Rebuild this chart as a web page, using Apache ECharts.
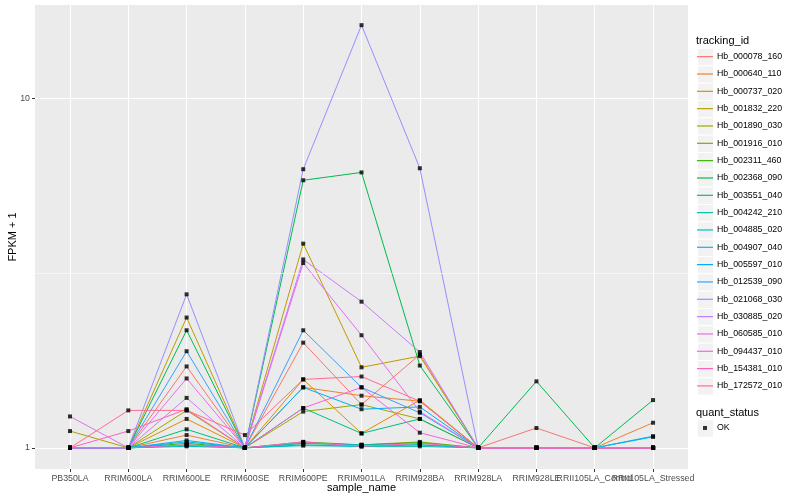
<!DOCTYPE html>
<html><head><meta charset="utf-8">
<script src="https://cdn.jsdelivr.net/npm/echarts@6/dist/echarts.min.js"></script>
<style>html,body{margin:0;padding:0;background:#fff}#c{width:800px;height:500px}</style>
</head><body><div id="c"></div>
<script>
const categories = ['PB350LA','RRIM600LA','RRIM600LE','RRIM600SE','RRIM600PE','RRIM901LA','RRIM928BA','RRIM928LA','RRIM928LE','RRII105LA_Control','RRII105LA_Stressed'];
const trackingIds = ['Hb_000078_160','Hb_000640_110','Hb_000737_020','Hb_001832_220','Hb_001890_030','Hb_001916_010','Hb_002311_460','Hb_002368_090','Hb_003551_040','Hb_004242_210','Hb_004885_020','Hb_004907_040','Hb_005597_010','Hb_012539_090','Hb_021068_030','Hb_030885_020','Hb_060585_010','Hb_094437_010','Hb_154381_010','Hb_172572_010'];
const seriesColors = ['#F8766D','#EA8331','#D89000','#C09B00','#A3A500','#7CAE00','#39B600','#00BB4E','#00BF7D','#00C1A3','#00BFC4','#00BAE0','#00B0F6','#35A2FF','#9590FF','#C77CFF','#E76BF3','#FA62DB','#FF62BC','#FF6C91'];
const yTickValues = [1, 10];
const yMinorGrid = [3.1623];

const hb_000078_160 = [1, 1, 1.71, 1, 2.0, 1.33, 1.85, 1, 1.14, 1, 1];
const hb_000640_110 = [1, 1, 1.088, 1, 1.49, 1.41, 1.36, 1, 1, 1, 1.18];
const hb_000737_020 = [1, 1, 1.21, 1, 1.57, 1.10, 1.37, 1, 1, 1, 1];
const hb_001832_220 = [1, 1, 2.36, 1, 3.84, 1.70, 1.83, 1, 1, 1, 1];
const hb_001890_030 = [1.117, 1, 1.28, 1, 1.27, 1.33, 1.21, 1, 1, 1, 1];
const hb_001916_010 = [1, 1, 1.02, 1, 1.03, 1.02, 1.04, 1, 1, 1, 1];
const hb_002311_460 = [1, 1, 1.03, 1, 1.04, 1.02, 1.035, 1, 1, 1, 1];
const hb_002368_090 = [1, 1, 2.17, 1, 5.83, 6.14, 1.72, 1, 1.55, 1, 1.37];
const hb_003551_040 = [1, 1, 1.13, 1, 1.30, 1.10, 1.21, 1, 1, 1, 1];
const hb_004242_210 = [1, 1, 1.015, 1, 1.02, 1.01, 1.01, 1, 1, 1, 1];
const hb_004885_020 = [1, 1, 1.01, 1, 1.015, 1.01, 1.02, 1, 1, 1, 1];
const hb_004907_040 = [1, 1, 1.04, 1, 1.03, 1.02, 1.02, 1, 1, 1, 1.08];
const hb_005597_010 = [1, 1, 1.05, 1, 1.49, 1.29, 1.31, 1, 1, 1, 1.075];
const hb_012539_090 = [1, 1, 1.89, 1, 2.17, 1.49, 1.26, 1, 1, 1, 1];
const hb_021068_030 = [1, 1, 2.75, 1, 6.27, 16.2, 6.31, 1, 1, 1, 1];
const hb_030885_020 = [1, 1, 1.39, 1, 3.46, 2.62, 1.88, 1, 1, 1, 1];
const hb_060585_010 = [1.23, 1, 1.58, 1, 3.38, 2.10, 1.27, 1, 1, 1, 1];
const hb_094437_010 = [1, 1, 1.02, 1, 1.30, 1.49, 1.105, 1, 1, 1, 1];
const hb_154381_010 = [1, 1.117, 1.29, 1, 1.04, 1.01, 1.03, 1, 1, 1, 1];
const hb_172572_010 = [1, 1.28, 1.28, 1.088, 1.57, 1.60, 1.36, 1, 1, 1, 1];

const seriesValues = [hb_000078_160, hb_000640_110, hb_000737_020, hb_001832_220, hb_001890_030, hb_001916_010, hb_002311_460, hb_002368_090, hb_003551_040, hb_004242_210, hb_004885_020, hb_004907_040, hb_005597_010, hb_012539_090, hb_021068_030, hb_030885_020, hb_060585_010, hb_094437_010, hb_154381_010, hb_172572_010];

const FONT = 'Liberation Sans, Arial, Helvetica, sans-serif';
const chart = echarts.init(document.getElementById('c'), null, {renderer: 'canvas'});

const lineSeries = trackingIds.map((id, k) => ({
  name: id,
  type: 'line',
  xAxisIndex: 1, yAxisIndex: 1,
  data: seriesValues[k],
  showSymbol: false,
  symbol: 'none',
  z: 2,
  silent: true,
  animation: false,
  itemStyle: {color: seriesColors[k]},
  lineStyle: {color: seriesColors[k], width: 1}
}));

const pointData = [];
seriesValues.forEach(vals => vals.forEach((v, i) => pointData.push([categories[i], v])));

const keyBg = [];
for (let i = 0; i < trackingIds.length; i++) {
  keyBg.push({type: 'rect', left: 697, top: 48 + 17.33 * i, z: 0,
    shape: {width: 16, height: 17.33}, style: {fill: '#F2F2F2', stroke: '#fff', lineWidth: 1}});
}
keyBg.push({type: 'rect', left: 697, top: 419.3, z: 0,
  shape: {width: 16, height: 17.33}, style: {fill: '#F2F2F2', stroke: '#fff', lineWidth: 1}});

const isMajor = v => yTickValues.some(t => Math.abs(t - v) < 1e-6);
const Y_MIN = 0.87, Y_MAX = 18.5;

chart.setOption({
  animation: false,
  backgroundColor: '#ffffff',
  textStyle: {fontFamily: FONT},
  grid: [
    {left: 35, right: 112, top: 5, bottom: 31, show: true, backgroundColor: '#EBEBEB', borderWidth: 0, containLabel: false, outerBoundsMode: 'none'},
    {left: 40.85, right: 117.8, top: 5, bottom: 31, show: false, containLabel: false, outerBoundsMode: 'none'}
  ],
  title: [
    {text: 'tracking_id', left: 696, top: 34, textStyle: {fontSize: 11, fontWeight: 'normal', color: '#000', fontFamily: FONT, lineHeight: 13}, padding: 0},
    {text: 'quant_status', left: 696, top: 406, textStyle: {fontSize: 11, fontWeight: 'normal', color: '#000', fontFamily: FONT, lineHeight: 13}, padding: 0}
  ],
  legend: [
    {
      orient: 'vertical', left: 697, top: 48, padding: 0, itemGap: 0,
      itemWidth: 16, itemHeight: 1.2, selectedMode: false,
      data: trackingIds.map((id, k) => ({name: id, icon: 'rect', itemStyle: {color: seriesColors[k]}})),
      textStyle: {fontSize: 8.8, color: '#000', fontFamily: FONT, lineHeight: 17.33, padding: [0, 0, 0, -1]}
    },
    {
      orient: 'vertical', left: 703, top: 419.3, padding: 0, itemGap: 0,
      itemWidth: 4, itemHeight: 4, selectedMode: false,
      data: [{name: 'OK', icon: 'rect', itemStyle: {color: '#000'}}],
      textStyle: {fontSize: 8.8, color: '#000', fontFamily: FONT, lineHeight: 17.33, padding: [0, 0, 0, 5]}
    }
  ],
  graphic: keyBg,
  xAxis: [
    {type: 'value', gridIndex: 0, min: 0, max: 1, show: false},
    {
      type: 'category', gridIndex: 1, data: categories, boundaryGap: true,
      name: 'sample_name', nameLocation: 'middle', nameGap: 13, nameMoveOverlap: false,
      nameTextStyle: {fontSize: 11, color: '#000', fontFamily: FONT},
      axisLine: {show: false},
      axisTick: {show: true, alignWithLabel: true, length: 3, lineStyle: {color: '#333', width: 1}},
      axisLabel: {interval: 0, fontSize: 8.8, color: '#4D4D4D', margin: 5, fontFamily: FONT, hideOverlap: false},
      splitLine: {show: true, alignWithLabel: true, interval: 0, lineStyle: {color: '#fff', width: 1}}
    }
  ],
  yAxis: [
    {
      type: 'log', gridIndex: 0, logBase: 10, min: Y_MIN, max: Y_MAX,
      name: 'FPKM + 1', nameLocation: 'middle', nameGap: 17, nameRotate: 90, nameMoveOverlap: false,
      nameTextStyle: {fontSize: 11, color: '#000', fontFamily: FONT},
      axisLine: {show: false},
      axisTick: {show: true, length: 3, lineStyle: {color: '#333', width: 1}},
      axisLabel: {fontSize: 8.8, color: '#4D4D4D', margin: 5, fontFamily: FONT,
        showMinLabel: false, showMaxLabel: false,
        formatter: v => (isMajor(v) ? String(Math.round(v)) : '')},
      splitLine: {show: true, showMinLine: false, showMaxLine: false, lineStyle: {color: '#fff', width: 1}},
      minorTick: {show: false},
      minorSplitLine: {show: false}
    },
    {type: 'log', gridIndex: 1, logBase: 10, min: Y_MIN, max: Y_MAX, show: false, splitLine: {show: false}}
  ],
  series: [
    {
      name: '__minorGrid', type: 'line', xAxisIndex: 0, yAxisIndex: 0, data: [], z: 1, silent: true, symbol: 'none',
      markLine: {silent: true, symbol: 'none', label: {show: false}, animation: false,
        lineStyle: {color: '#fff', width: 0.6, type: 'solid'},
        data: yMinorGrid.map(v => ({yAxis: v}))}
    },
    ...lineSeries,
    {
      name: 'OK', type: 'scatter', xAxisIndex: 1, yAxisIndex: 1, data: pointData, symbol: 'rect', symbolSize: 4, z: 5, silent: true,
      itemStyle: {color: '#000'}
    }
  ]
});
</script></body></html>
